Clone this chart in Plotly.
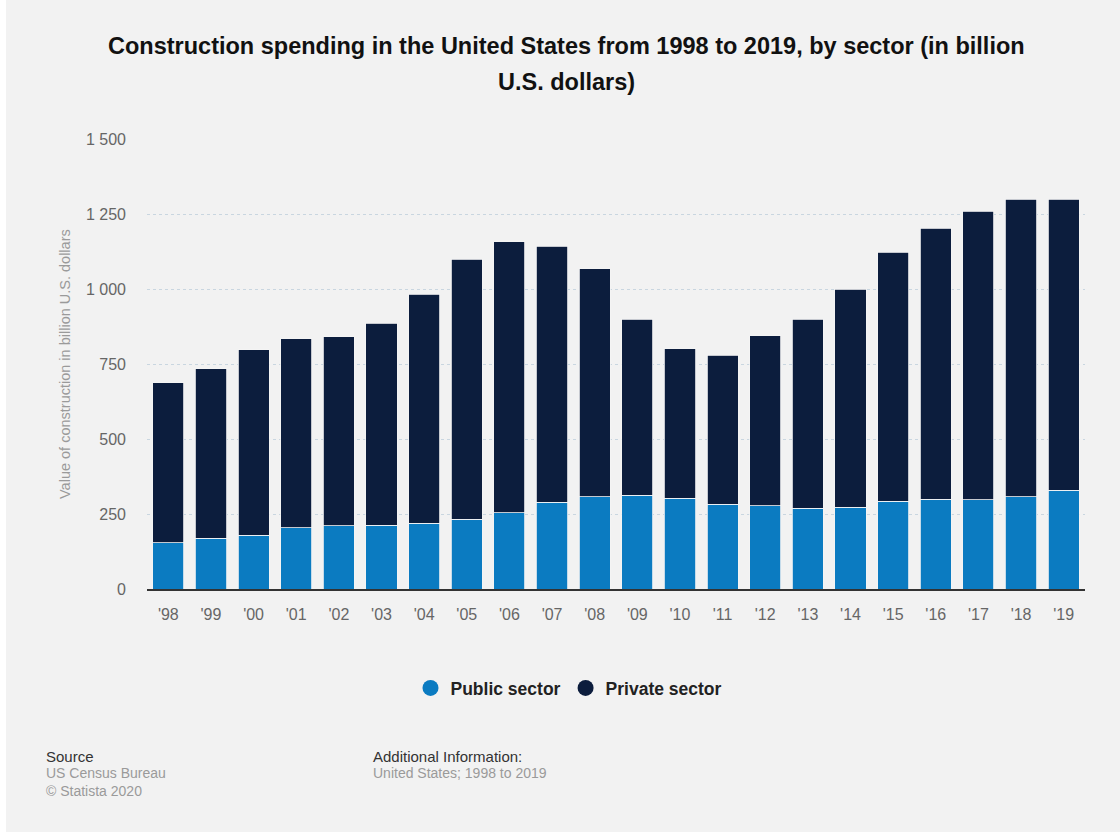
import plotly.graph_objects as go

# Construction spending by sector, billion U.S. dollars
years = ["'98", "'99", "'00", "'01", "'02", "'03", "'04", "'05", "'06", "'07", "'08",
         "'09", "'10", "'11", "'12", "'13", "'14", "'15", "'16", "'17", "'18", "'19"]
public = [154, 169, 180, 204, 211, 213, 219, 232, 254, 289, 308,
          313, 302, 283, 278, 269, 272, 293, 299, 297, 308, 329]
total = [687, 735, 797, 835, 841, 886, 983, 1099, 1158, 1143, 1068,
         900, 801, 780, 844, 900, 999, 1122, 1202, 1260, 1300, 1300]
private = [t - p for t, p in zip(total, public)]

y_ticks = [0, 250, 500, 750, 1000, 1250, 1500]
y_tick_text = ["0", "250", "500", "750", "1 000", "1 250", "1 500"]

PUBLIC_COLOR = "#0b7bc1"
PRIVATE_COLOR = "#0c1d3d"
FONT = "Liberation Sans, Arial, sans-serif"

fig = go.Figure()
fig.add_trace(go.Bar(x=years, y=public, name="Public sector", marker_color=PUBLIC_COLOR,
                     marker_line=dict(color="#f4f4f4", width=0.8), showlegend=False))
fig.add_trace(go.Bar(x=years, y=private, name="Private sector", marker_color=PRIVATE_COLOR,
                     marker_line=dict(color="#f4f4f4", width=0.8), showlegend=False))

# circular legend markers
for name, col in [("Public sector", PUBLIC_COLOR), ("Private sector", PRIVATE_COLOR)]:
    fig.add_trace(go.Scatter(x=[None], y=[None], mode="markers", name=name,
                             marker=dict(symbol="circle", size=18, color=col)))

L, R, T, B = 147, 35, 139, 249
W, H = 1120, 838
pw, ph = W - L - R, H - T - B

def px_x(x):
    return (x - L) / pw

def px_y(y):
    return (H - B - y) / ph

shapes = [
    # grey card with a thin white margin at left and bottom
    dict(type="rect", xref="paper", yref="paper", layer="below",
         x0=px_x(6), x1=px_x(W + 5), y0=px_y(832), y1=px_y(-5),
         fillcolor="#f2f2f2", line=dict(width=0)),
]

def note(text, x, y, size, color, **kw):
    return dict(text=text, x=px_x(x), y=px_y(y), xref="paper", yref="paper",
                xanchor=kw.pop("xanchor", "left"), yanchor="middle", showarrow=False,
                font=dict(family=FONT, size=size, color=color), **kw)

annotations = [
    note("<b>Construction spending in the United States from 1998 to 2019, by sector (in billion</b>",
         566.5, 46, 23.5, "#111111", xanchor="center"),
    note("<b>U.S. dollars)</b>", 566.5, 82, 23.5, "#111111", xanchor="center"),
    note("Source", 44, 756, 15, "#333333"),
    note("US Census Bureau", 44, 773, 14, "#9a9a9a"),
    note("© Statista 2020", 44, 791, 14, "#9a9a9a"),
    note("Additional Information:", 371, 756, 15, "#333333"),
    note("United States; 1998 to 2019", 371, 773, 14, "#9a9a9a"),
    note("Value of construction in billion U.S. dollars", 65, 364, 14.5, "#9a9a9a",
         xanchor="center", textangle=-90),
]

fig.update_layout(
    width=W, height=H,
    margin=dict(l=L, r=R, t=T, b=B),
    barmode="stack",
    bargap=0.27,
    paper_bgcolor="#ffffff",
    plot_bgcolor="#f5f5f5",
    font=dict(family=FONT),
    xaxis=dict(showgrid=False, showline=True, linecolor="#333333", linewidth=1.5,
               ticks="", tickfont=dict(size=16, color="#666666"), ticklabelstandoff=10),
    yaxis=dict(range=[0, 1500], tickvals=y_ticks, ticktext=y_tick_text,
               showgrid=True, gridcolor="#c9d6e0", griddash="dot", gridwidth=1,
               zeroline=False, showline=False, ticks="",
               tickfont=dict(size=16, color="#666666"), ticklabelstandoff=20),
    legend=dict(orientation="h", traceorder="normal", x=px_x(569), xanchor="center",
                y=px_y(688), yanchor="middle",
                font=dict(family=FONT, size=17.5, color="#222222", weight="bold"),
                bgcolor="rgba(0,0,0,0)", itemwidth=30),
    shapes=shapes,
    annotations=annotations,
)

fig.write_html("out.html")
